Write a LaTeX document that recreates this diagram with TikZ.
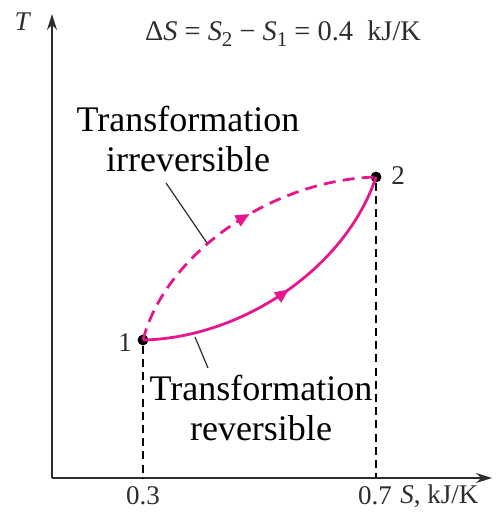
\documentclass[tikz,border=0pt]{standalone}
\usepackage{fontspec}
\setmainfont{Liberation Serif}
\usetikzlibrary{arrows.meta,decorations.markings}
\definecolor{mag}{RGB}{232,22,140}
\definecolor{ink}{RGB}{45,45,45}
\newcommand{\lowsub}[1]{\raisebox{-0.45ex}{\fontsize{10.5}{10.5}\selectfont #1}}
\tikzset{
  axis/.style={line width=0.9pt,draw=ink,-{Stealth[length=8pt,width=5pt]}},
  guide/.style={line width=0.7pt,draw=black,dash pattern=on 4pt off 2.6pt},
  pt/.style={circle,fill=black,inner sep=0pt,minimum size=5.4pt},
  biglabel/.style={align=center,font=\fontsize{18}{20}\selectfont,text=black,inner sep=0pt},
  small/.style={font=\fontsize{13.5}{15}\selectfont,text=ink,inner sep=0pt},
  formula/.style={font=\fontsize{14.2}{16}\selectfont,text=ink,inner sep=0pt},
  leader/.style={line width=0.6pt,draw=ink},
  midarrow/.style={decoration={markings,mark=at position #1 with {\arrow{Triangle[length=7pt,width=6pt]}}},postaction={decorate}},
  curve/.style={line width=1.4pt,draw=mag,fill=none}
}
\begin{document}
\begin{tikzpicture}[x=0.5pt,y=-0.5pt]
\useasboundingbox (0,0) rectangle (498,513);
% axes
\coordinate (O) at (52,478);
\coordinate (Ttip) at (52,14);
\coordinate (Stip) at (492,478);
\draw[axis] (O) -- (Ttip);
\draw[axis] (O) -- (Stip);
% states
\node[pt] (p1) at (143,340) {};
\node[pt] (p2) at (376,177) {};
\coordinate (b1) at (143,478);
\coordinate (b2) at (376,478);
\draw[guide] (p1) -- (b1);
\draw[guide] (p2) -- (b2);
% curves
\draw[curve,midarrow=0.52,mag] (p1.center) .. controls (240,338) and (345,270) .. (p2.center);
\draw[curve,dash pattern=on 6pt off 3.6pt,mag,
  decoration={markings,mark=at position 0.56 with {\arrow[mag]{Triangle[length=7pt,width=6pt]}}},postaction={decorate}]
  (p1.center) .. controls (165,255) and (270,180) .. (p2.center);
% labels
\node[small] (n1) at (125,343) {1};
\node[small] (n2) at (398,176) {2};
\node[small] (x1) at (143,496) {0.3};
\node[small] (x2) at (375,496) {0.7};
\node[small,anchor=west] (xl) at (400,496) {\textit{S}, kJ/K};
\node[small] (yl) at (23,22) {\textit{T}};
\node[formula] (form) at (283,34) {Δ\textit{S} = \textit{S}\lowsub{2} − \textit{S}\lowsub{1} = 0.4~ kJ/K};
\node[biglabel] (irr) at (188,139) {Transformation\\irreversible};
\node[biglabel] (rev) at (261,408) {Transformation\\reversible};
% leaders
\coordinate (la1) at (166,183);
\coordinate (la2) at (207,243);
\coordinate (lb1) at (195,337);
\coordinate (lb2) at (208,368);
\draw[leader] (la1) -- (la2);
\draw[leader] (lb1) -- (lb2);
\end{tikzpicture}
\end{document}
